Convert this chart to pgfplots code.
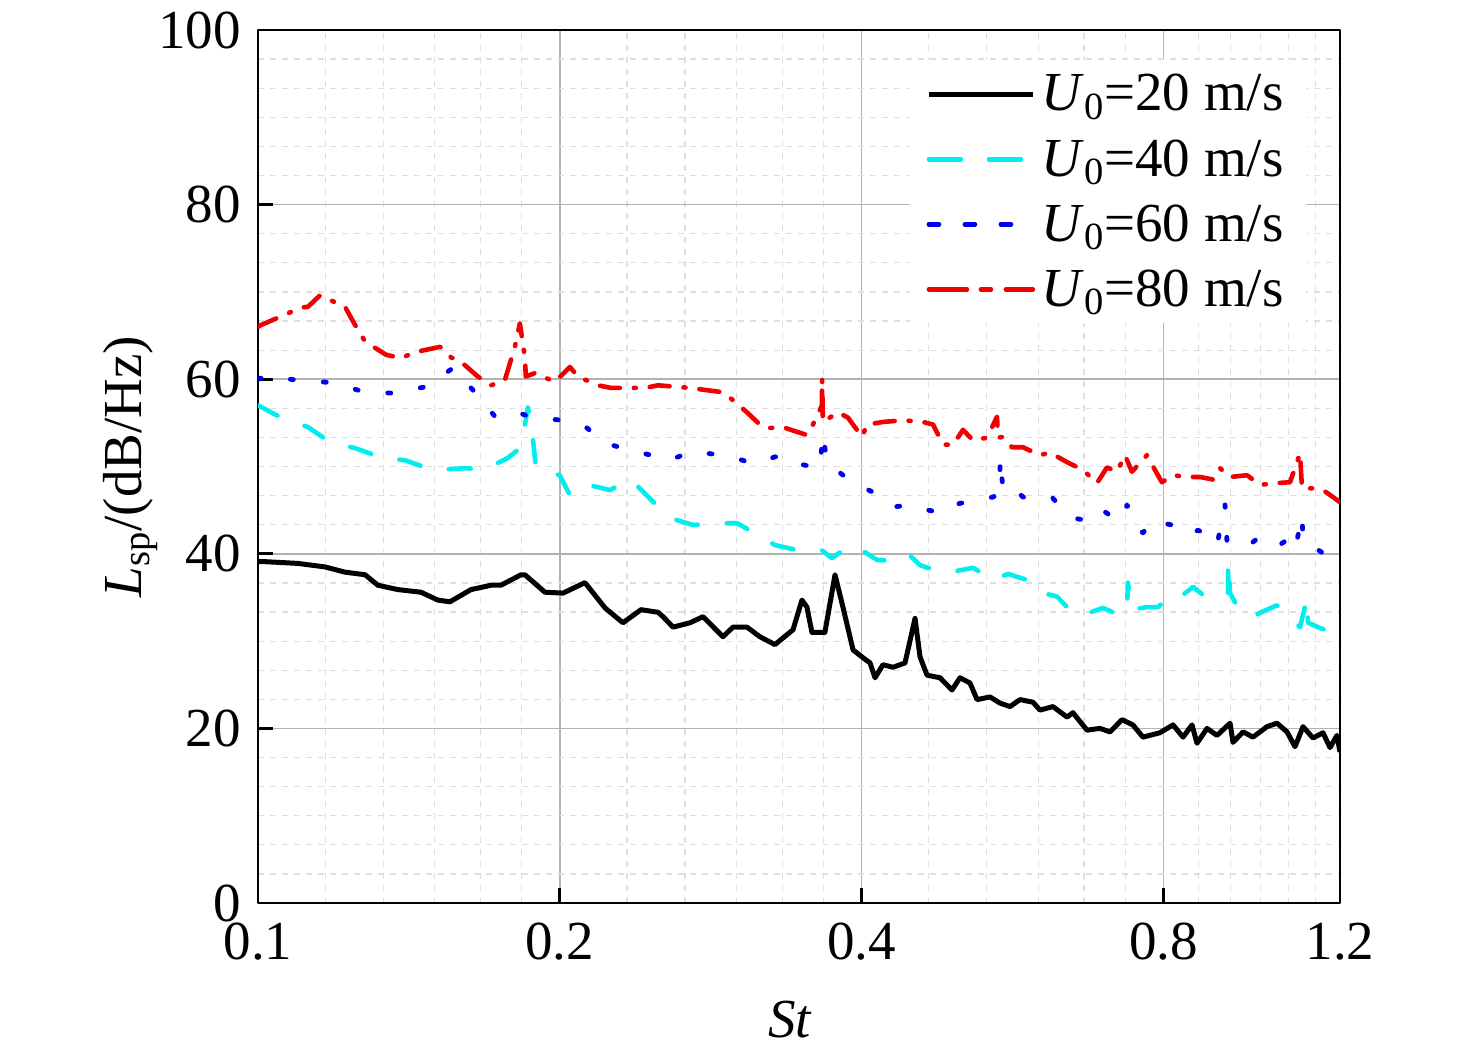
\documentclass[border=0pt]{standalone}
\usepackage{fontspec}
\setmainfont{Liberation Serif}
\usepackage{pgfplots}
\pgfplotsset{compat=1.18}
\definecolor{mycyan}{RGB}{0,238,238}
\definecolor{myblue}{RGB}{0,0,235}
\definecolor{myred}{RGB}{240,0,0}
\begin{document}
\begin{tikzpicture}
\path[use as bounding box] (-129pt,-76.5pt) rectangle (609pt,451.5pt);
\begin{axis}[
  at={(0pt,0pt)}, anchor=south west,
  scale only axis, width=541pt, height=436.5pt,
  xmode=log, log basis x=10,
  xmin=0.1, xmax=1.2, ymin=0, ymax=100,
  xtick={0.1,0.2,0.4,0.8,1.2}, xticklabels={0.1,0.2,0.4,0.8,1.2},
  minor xtick={0.11667,0.13333,0.15,0.16667,0.18333,0.23333,0.26667,0.3,0.33333,0.36667,0.46667,0.53333,0.6,0.66667,0.73333,0.86667,0.93333,1.0,1.06667,1.13333},
  ytick={0,20,40,60,80,100}, yticklabels={0,20,40,60,80,100},
  minor y tick num=5,
  xtick pos=bottom, ytick pos=left,
  tick align=inside,
  major tick length=7.5pt, minor tick length=0pt,
  every tick/.style={black, line width=1.4pt},
  axis line style={line width=1.4pt},
  grid=both,
  major grid style={gray!60, line width=0.8pt},
  minor grid style={gray!25, dashed, line width=0.6pt},
  font=\fontsize{27.5}{33}\selectfont,
  tick label style={font=\fontsize{27.5}{33}\selectfont},
  xticklabel style={yshift=-6.5pt},
  yticklabel style={xshift=-5pt},
  /pgf/number format/assume math mode=true,
  xlabel={\textit{St}},
  ylabel={\textit{L}\textsubscript{sp}/(dB/Hz)},
  xlabel style={at={(axis description cs:0.492,-0.134)}, anchor=center},
  ylabel style={at={(axis description cs:-0.118,0.5)}, anchor=center},
  legend cell align=left,
  legend style={at={(axis description cs:0.6026,0.9657)}, anchor=north west,
    draw=none, fill=white, inner xsep=8pt, inner ysep=4pt, row sep=6.75pt,
    font=\fontsize{27.5}{33}\selectfont,
    nodes={inner sep=3pt}},
  line join=round,
]
\addplot[black, line width=2.5pt,
  legend image code/.code={\draw[black, line width=2.5pt] (0pt,0pt) -- (52pt,0pt);}]
coordinates {
(0.1,39.1)(0.1016,39.1)(0.1096,38.9)(0.1166,38.5)(0.1221,37.9)(0.1279,37.6)(0.1317,36.4)
(0.1379,35.9)(0.1454,35.6)(0.1512,34.7)(0.1554,34.5)(0.1631,35.9)(0.1708,36.4)(0.1747,36.4)
(0.1830,37.6)(0.1846,37.6)(0.1933,35.6)(0.2015,35.5)(0.2119,36.7)(0.2219,33.8)(0.2312,32.1)
(0.2410,33.6)(0.2506,33.3)(0.2535,32.8)(0.2594,31.6)(0.2697,32.1)(0.2779,32.8)(0.2909,30.5)
(0.2977,31.6)(0.3074,31.6)(0.3167,30.5)(0.3278,29.6)(0.3417,31.3)(0.3488,34.7)(0.3528,33.9)
(0.3569,31.0)(0.3677,31.0)(0.3763,37.6)(0.3832,33.9)(0.3922,29.0)(0.4012,28.1)(0.4078,27.5)
(0.4125,25.8)(0.4201,27.3)(0.4299,27.0)(0.4419,27.5)(0.4522,32.6)(0.4574,28.2)(0.4648,26.1)
(0.4789,25.8)(0.4922,24.4)(0.5014,25.8)(0.5130,25.2)(0.5214,23.3)(0.5372,23.6)(0.5496,22.9)
(0.5624,22.5)(0.5755,23.3)(0.5929,23.0)(0.6025,22.1)(0.6207,22.5)(0.6411,21.3)(0.6499,21.8)
(0.6712,19.8)(0.6915,20.0)(0.7076,19.6)(0.7274,21.0)(0.7459,20.4)(0.7633,19.0)(0.7936,19.5)
(0.8178,20.4)(0.8368,19.0)(0.8542,20.4)(0.8641,18.3)(0.8842,20.0)(0.9047,19.2)(0.9322,20.6)
(0.9386,18.4)(0.9605,19.6)(0.9827,19.0)(1.0148,20.2)(1.0383,20.6)(1.0625,19.6)(1.0822,17.9)
(1.1023,20.2)(1.1278,18.9)(1.1541,19.5)(1.1728,17.8)(1.1917,19.2)(1.2,17.3)
};
\addlegendentry{\textit{U}\textsubscript{0}=20 m/s}
\addplot[mycyan, line width=2.3pt, line cap=round, dash pattern=on 11pt off 14.5pt,
  legend image code/.code={\draw[mycyan, line width=2.3pt, dash pattern=on 16pt off 14pt] (0pt,0pt) -- (46pt,0pt);}]
coordinates {
(0.1,57.0)(0.1012,56.7)(0.1042,55.9)(0.1122,54.5)(0.1180,52.8)(0.1250,52.1)(0.1323,51.1)
(0.1402,50.7)(0.1495,49.6)(0.1609,49.8)(0.1688,49.7)(0.1776,51.0)(0.1830,52.2)(0.1859,56.8)
(0.1881,53.0)(0.1894,49.8)(0.2000,49.0)(0.2047,46.7)(0.2134,47.9)(0.2244,47.3)(0.2355,48.5)
(0.2466,46.2)(0.2576,44.1)(0.2716,43.3)(0.2869,43.5)(0.3005,43.5)(0.3117,42.5)(0.3278,41.0)
(0.3456,40.4)(0.3652,40.4)(0.3737,39.5)(0.3895,41.0)(0.4003,40.4)(0.4144,39.3)(0.4289,39.2)
(0.4450,40.0)(0.4574,38.7)(0.4734,38.1)(0.4957,38.0)(0.5166,38.4)(0.5409,37.0)(0.5599,37.7)
(0.5848,37.0)(0.6025,35.6)(0.6265,35.1)(0.6484,33.3)(0.6635,33.0)(0.6805,33.4)(0.6963,33.8)
(0.7158,33.2)(0.7357,33.3)(0.7374,36.7)(0.7442,33.6)(0.7704,33.9)(0.7901,33.9)(0.8178,35.5)
(0.8368,35.3)(0.8562,36.2)(0.8761,35.3)(0.9047,35.1)(0.9279,35.3)(0.9280,39.1)(0.9322,35.5)
(0.9495,33.8)(0.9805,32.8)(1.0057,33.4)(1.0383,34.1)(1.0650,32.8)(1.0947,31.6)(1.1125,34.9)
(1.1150,32.1)(1.1463,31.5)(1.1783,31.0)(1.1965,32.8)(1.2,33.0)
};
\addlegendentry{\textit{U}\textsubscript{0}=40 m/s}
\addplot[myblue, line width=2.4pt, line cap=round, dash pattern=on 1.5pt off 15pt,
  legend image code/.code={\draw[myblue, line width=2.4pt, dash pattern=on 5pt off 13pt] (0pt,0pt) -- (41pt,0pt);}]
coordinates {
(0.1,60.0)(0.1016,60.3)(0.1096,59.9)(0.1188,59.6)(0.1279,58.5)(0.1370,58.4)(0.1478,59.2)
(0.1565,61.3)(0.1646,58.5)(0.1727,55.6)(0.1825,56.1)(0.1868,55.7)(0.2006,55.3)(0.2119,54.6)
(0.2219,52.7)(0.2339,51.9)(0.2466,51.3)(0.2576,50.7)(0.2697,51.7)(0.2811,51.5)(0.2977,51.1)
(0.3117,50.3)(0.3278,51.1)(0.3370,51.2)(0.3496,50.2)(0.3635,49.8)(0.3660,53.8)(0.3694,50.4)
(0.3824,49.1)(0.3922,48.1)(0.4050,47.4)(0.4192,46.5)(0.4318,45.4)(0.4501,45.6)(0.4659,45.0)
(0.4811,44.7)(0.4934,45.6)(0.5072,45.9)(0.5214,46.2)(0.5409,46.5)(0.5496,47.0)(0.5497,51.0)
(0.5535,47.3)(0.5663,47.6)(0.5794,46.5)(0.6025,46.5)(0.6193,46.5)(0.6352,45.0)(0.6499,44.1)
(0.6651,43.9)(0.6805,44.4)(0.6915,45.2)(0.7076,44.4)(0.7290,43.9)(0.7357,45.6)(0.7528,43.1)
(0.7633,42.4)(0.7811,43.9)(0.7992,43.5)(0.8254,43.2)(0.8503,42.2)(0.8661,42.7)(0.8842,42.2)
(0.9047,41.0)(0.9215,45.6)(0.9257,41.4)(0.9473,40.9)(0.9692,40.8)(0.9940,41.8)(1.0148,41.4)
(1.0383,40.8)(1.0625,41.6)(1.0822,40.4)(1.0997,44.4)(1.1023,41.6)(1.1330,40.7)(1.1594,39.9)
(1.1917,39.9)(1.2,40.0)
};
\addlegendentry{\textit{U}\textsubscript{0}=60 m/s}
\addplot[myred, line width=2.3pt, line cap=round, dash pattern=on 10pt off 7pt on 1pt off 7pt,
  legend image code/.code={\draw[myred, line width=2.3pt, dash pattern=on 19pt off 7pt on 5pt off 7.5pt] (0pt,0pt) -- (52pt,0pt);}]
coordinates {
(0.1,66.0)(0.1007,66.2)(0.1064,67.4)(0.1104,68.2)(0.1122,68.3)(0.1153,69.6)(0.1221,68.3)
(0.1250,66.2)(0.1279,64.3)(0.1342,62.8)(0.1389,62.4)(0.1434,63.1)(0.1519,63.7)(0.1558,62.5)
(0.1594,62.0)(0.1657,60.3)(0.1708,59.3)(0.1763,59.9)(0.1804,63.7)(0.1825,66.4)(0.1846,62.5)
(0.1850,60.3)(0.1889,60.7)(0.1978,59.7)(0.2047,61.4)(0.2085,60.3)(0.2183,59.3)(0.2250,59.0)
(0.2432,59.0)(0.2506,59.3)(0.2697,59.0)(0.2779,58.8)(0.2909,58.5)(0.2977,57.6)(0.3074,56.2)
(0.3167,54.8)(0.3219,54.4)(0.3339,54.5)(0.3528,53.6)(0.3577,54.8)(0.3652,57.0)(0.3653,60.1)
(0.3660,55.1)(0.3789,56.2)(0.3877,55.6)(0.4003,53.4)(0.4050,54.8)(0.4201,55.1)(0.4399,55.3)
(0.4606,55.1)(0.4713,54.8)(0.4822,52.5)(0.4934,52.5)(0.5049,54.2)(0.5166,53.0)(0.5335,53.3)
(0.5459,55.7)(0.5471,53.3)(0.5535,53.4)(0.5650,52.2)(0.5794,52.2)(0.6025,51.3)(0.6165,51.6)
(0.6411,50.5)(0.6651,49.6)(0.6868,48.1)(0.7027,49.9)(0.7191,49.4)(0.7324,51.3)(0.7442,49.4)
(0.7704,51.3)(0.7847,49.6)(0.7973,48.2)(0.8178,49.0)(0.8445,48.8)(0.8701,48.8)(0.8965,48.5)
(0.9110,49.8)(0.9322,48.8)(0.9692,49.0)(0.9986,47.9)(1.0383,48.1)(1.0699,48.2)(1.0947,51.5)
(1.0997,47.5)(1.1278,47.5)(1.1541,47.3)(1.1809,46.5)(1.2,45.9)
};
\addlegendentry{\textit{U}\textsubscript{0}=80 m/s}
\end{axis}
\end{tikzpicture}
\end{document}
